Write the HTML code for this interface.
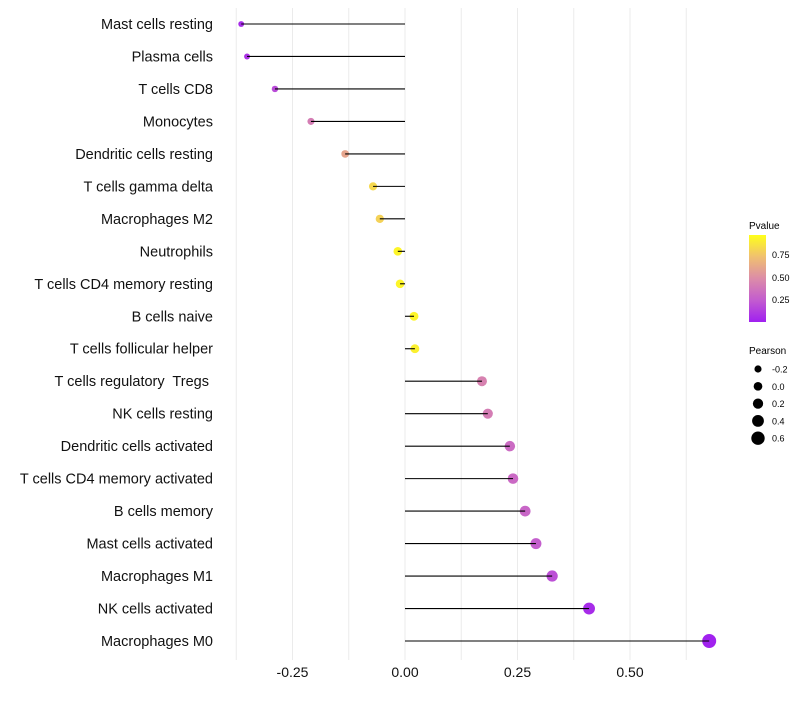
<!DOCTYPE html>
<html><head><meta charset="utf-8"><style>
body{margin:0;background:#fff;font-family:"Liberation Sans",sans-serif}
svg text{font-family:"Liberation Sans",sans-serif;white-space:pre}
</style></head><body>
<svg id="c" width="800" height="700" xmlns="http://www.w3.org/2000/svg">
<defs><linearGradient id="pg" x1="0" y1="1" x2="0" y2="0">
<stop offset="0" stop-color="#a020f0"/><stop offset="0.25" stop-color="#c35ccf"/><stop offset="0.5" stop-color="#dc8ca8"/><stop offset="0.75" stop-color="#f0c070"/><stop offset="1" stop-color="#ffff1a"/></linearGradient></defs>
<g id="grid"></g><g id="dots"></g><g id="marks"></g><g id="labels"></g><g id="xticks"></g>
<g>
<text x="749" y="229" font-size="10">Pvalue</text>
<rect x="749" y="235" width="17" height="87" fill="url(#pg)"/>
<text x="772" y="258" font-size="9">0.75</text>
<text x="772" y="281" font-size="9">0.50</text>
<text x="772" y="303" font-size="9">0.25</text>
</g>
<g id="sizeLegend">
<text x="749" y="354" font-size="10">Pearson</text>
</g>
</svg>
<script>
const cats=["Mast cells resting","Plasma cells","T cells CD8","Monocytes","Dendritic cells resting","T cells gamma delta","Macrophages M2","Neutrophils","T cells CD4 memory resting","B cells naive","T cells follicular helper","T cells regulatory  Tregs ","NK cells resting","Dendritic cells activated","T cells CD4 memory activated","B cells memory","Mast cells activated","Macrophages M1","NK cells activated","Macrophages M0"];
const pearson=[-0.364,-0.351,-0.289,-0.209,-0.133,-0.071,-0.056,-0.016,-0.011,0.02,0.022,0.171,0.184,0.233,0.24,0.267,0.291,0.327,0.409,0.676];
const pvalue=[0.05,0.08,0.18,0.42,0.62,0.85,0.82,0.96,0.96,0.96,0.94,0.45,0.42,0.33,0.32,0.3,0.26,0.2,0.05,0.01];
const xTicks=[-0.25,0,0.25,0.5];
const xTickLabels=["-0.25","0.00","0.25","0.50"];
const legendVals=[-0.2,0,0.2,0.4,0.6];
const legendLabels=["-0.2","0.0","0.2","0.4","0.6"];
const NS="http://www.w3.org/2000/svg";
const X=v=>405+v*450;
const Y=i=>24+i*(641-24)/(cats.length-1);
const R=v=>Math.max(1.8,4.35+3.9*v);
function col(p){const st=[[0,[160,32,240]],[0.25,[195,92,207]],[0.5,[220,140,168]],[0.75,[240,192,112]],[1,[255,255,26]]];
for(let i=1;i<st.length;i++){if(p<=st[i][0]){const t=(p-st[i-1][0])/(st[i][0]-st[i-1][0]);const a=st[i-1][1],b=st[i][1];return`rgb(${a.map((c,k)=>Math.round(c+(b[k]-c)*t)).join(",")})`;}}return"rgb(255,255,26)";}
function mk(tag,at,parent){const e=document.createElementNS(NS,tag);for(const k in at)e.setAttribute(k,at[k]);document.getElementById(parent).appendChild(e);return e;}
for(let v=-0.375;v<=0.63;v+=0.125){const g=mk("line",{x1:X(v),x2:X(v),y1:8,y2:660,stroke:"#ebebeb","stroke-width":1},"grid");

}
cats.forEach((c,i)=>{
const d=mk("circle",{cx:X(pearson[i]),cy:Y(i),r:R(pearson[i]),fill:col(pvalue[i])},"dots");


const l=mk("line",{x1:X(0),x2:X(pearson[i]),y1:Y(i),y2:Y(i),stroke:"#000","stroke-width":1.1},"marks");


const t=mk("text",{x:213,y:Y(i)+5,"text-anchor":"end","font-size":14.5,fill:"#111"},"labels");
t.textContent=c;


});
xTicks.forEach((v,i)=>{const t=mk("text",{x:X(v),y:677,"text-anchor":"middle","font-size":14,fill:"#111"},"xticks");
t.textContent=xTickLabels[i];

});
legendVals.forEach((v,i)=>{const y=369+i*17.3;
const c=mk("circle",{cx:758,cy:y,r:R(v),fill:"#000"},"sizeLegend");


const t=mk("text",{x:772,y:y+3.5,"font-size":9},"sizeLegend");t.textContent=legendLabels[i];

});
</script>
</body></html>
